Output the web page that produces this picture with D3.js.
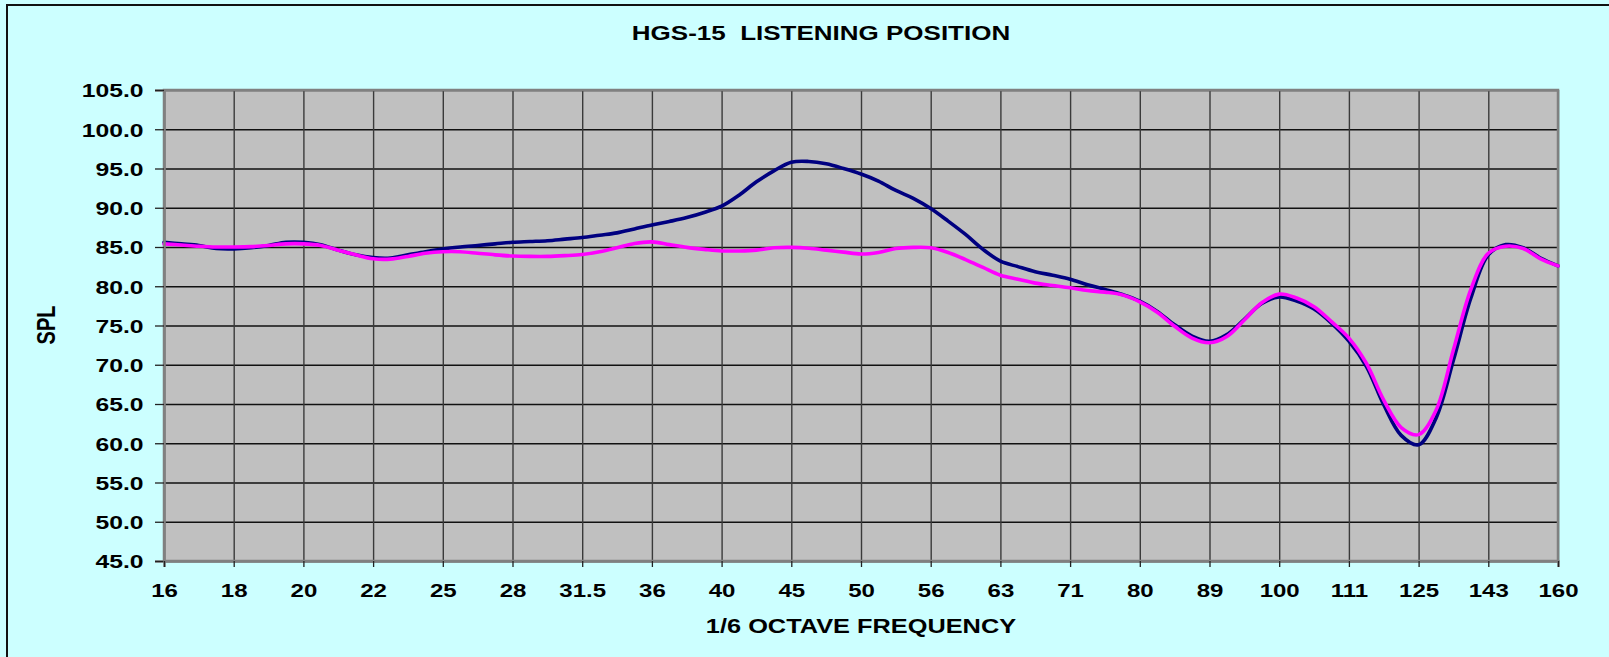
<!DOCTYPE html>
<html>
<head>
<meta charset="utf-8">
<script src="https://cdn.jsdelivr.net/npm/d3@7"></script>
<style>
  html, body { margin: 0; padding: 0; background: #CCFFFF; }
  svg { display: block; }
  text { font-family: "Liberation Sans", Arial, sans-serif; font-weight: bold; fill: #000; }
</style>
</head>
<body>
<svg id="chart" width="1609" height="657"></svg>
<script>
// 1/24-octave measurement points; labelled ones carry their nominal 1/6-octave name
const frequencies = [
  "16","16.5","17","17.5","18","18.5","19","19.6",
  "20","20.8","21.4","22.0x","22","23.3","24","24.7",
  "25","26.2","26.9","27.7","28","29.4","30.2","31.1",
  "31.5","32.9","33.9","34.9","36","37","38","39.2",
  "40","41.5","42.7","44","45","46.6","48","49.4",
  "50","52.3","53.8","55.4","56","58.7","60.4","62.2",
  "63","65.9","67.8","69.8","71","74","76.1","78.3",
  "80","83","85.4","87.9","89","93.2","95.9","98.7",
  "100","104.6","107.6","110.8","111","117.4","120.8","124.3",
  "125","131.8","135.6","139.6","143","147.9","152.2","156.7",
  "160"
];
const tickLabels = ["16","18","20","22","25","28","31.5","36","40","45","50","56","63","71","80","89","100","111","125","143","160"];
const yTicks = [45,50,55,60,65,70,75,80,85,90,95,100,105];

// Series (dB SPL)
const seriesNavy = [
  85.6,85.4,85.2,84.8,84.75,84.9,85.2,85.6,
  85.6,85.3,84.6,84.0,83.65,83.6,84.0,84.4,
  84.75,85.0,85.2,85.4,85.6,85.7,85.8,86.0,
  86.2,86.5,86.8,87.3,87.8,88.25,88.75,89.4,
  90.2,91.6,93.3,94.7,95.8,95.9,95.6,95.0,
  94.3,93.4,92.2,91.2,89.9,88.3,86.6,84.7,
  83.2,82.5,81.85,81.4,80.9,80.2,79.6,78.95,
  78.1,76.8,75.1,73.65,73.0,73.85,75.8,77.8,
  78.64,78.1,77.1,75.3,73.0,69.8,64.9,61.0,
  59.8,63.2,70.6,78.5,84.0,85.3,84.9,83.6,
  82.6
];
const seriesMagenta = [
  85.4,85.25,85.1,85.0,85.0,85.05,85.2,85.4,
  85.4,85.2,84.6,84.0,83.5,83.45,83.8,84.2,
  84.4,84.4,84.2,84.0,83.85,83.8,83.8,83.9,
  84.05,84.4,84.9,85.45,85.65,85.3,84.95,84.7,
  84.5,84.5,84.6,84.9,84.95,84.85,84.6,84.35,
  84.1,84.3,84.8,84.95,84.9,84.3,83.4,82.4,
  81.4,80.9,80.4,80.1,79.8,79.45,79.25,78.9,
  78.0,76.7,74.9,73.4,72.8,73.6,75.7,77.9,
  79.0,78.5,77.4,75.5,73.4,70.2,65.5,62.0,
  61.1,64.2,71.9,79.6,84.2,85.1,84.8,83.5,
  82.6
];

const titleText = "HGS-15  LISTENING POSITION";
const xTitle = "1/6 OCTAVE FREQUENCY";
const yTitle = "SPL";

// ---- layout ----
const W = 1609, H = 657;
const plot = { left: 164, right: 1558, top: 90, bottom: 561 };
const SX = 1.3; // horizontal text stretch seen in the reference

const svg = d3.select("#chart");

svg.append("rect")
  .attr("x", 0).attr("y", 0).attr("width", W).attr("height", H)
  .attr("fill", "#CCFFFF");
svg.append("rect")
  .attr("x", 7).attr("y", 5).attr("width", W + 100).attr("height", H + 100)
  .attr("fill", "none").attr("stroke", "#111").attr("stroke-width", 2);

const x = d3.scalePoint().domain(frequencies).range([plot.left, plot.right]).padding(0);
const y = d3.scaleLinear().domain([45, 105]).range([plot.bottom, plot.top]);

svg.append("rect")
  .attr("x", plot.left).attr("y", plot.top)
  .attr("width", plot.right - plot.left).attr("height", plot.bottom - plot.top)
  .attr("fill", "#C0C0C0");

// horizontal gridlines
svg.append("g")
  .attr("transform", `translate(${plot.left},0)`)
  .call(d3.axisLeft(y).tickValues(yTicks).tickSize(-(plot.right - plot.left)).tickFormat(""))
  .call(g => g.select(".domain").remove())
  .call(g => g.selectAll("line").attr("stroke", "#111").attr("stroke-width", 1.4));

// vertical gridlines
svg.append("g")
  .attr("transform", `translate(0,${plot.bottom})`)
  .call(d3.axisBottom(x).tickValues(tickLabels).tickSize(-(plot.bottom - plot.top)).tickFormat(""))
  .call(g => g.select(".domain").remove())
  .call(g => g.selectAll("line").attr("stroke", "#3a3a3a").attr("stroke-width", 1.4));

svg.append("rect")
  .attr("x", plot.left).attr("y", plot.top)
  .attr("width", plot.right - plot.left).attr("height", plot.bottom - plot.top)
  .attr("fill", "none").attr("stroke", "#808080").attr("stroke-width", 2.5);

// series
const line = d3.line()
  .x((d, i) => x(frequencies[i]))
  .y(d => y(d))
  .curve(d3.curveCatmullRom.alpha(0.5));

svg.append("path").datum(seriesNavy)
  .attr("d", line).attr("fill", "none")
  .attr("stroke", "#000080").attr("stroke-width", 3.6)
  .attr("stroke-linejoin", "round").attr("stroke-linecap", "round");
svg.append("path").datum(seriesMagenta)
  .attr("d", line).attr("fill", "none")
  .attr("stroke", "#FF00FF").attr("stroke-width", 3.6)
  .attr("stroke-linejoin", "round").attr("stroke-linecap", "round");

// y axis
svg.append("g")
  .attr("transform", `translate(${plot.left},0)`)
  .call(d3.axisLeft(y).tickValues(yTicks).tickSize(9).tickPadding(0).tickFormat(d3.format(".1f")))
  .call(g => g.select(".domain").attr("stroke", "#808080").attr("stroke-width", 2.5))
  .call(g => g.selectAll("line").attr("stroke", "#222").attr("stroke-width", 1.3))
  .call(g => g.selectAll("text")
      .attr("x", -20.5 / SX)
      .attr("dy", "0.36em")
      .attr("transform", `scale(${SX},1)`)
      .style("font-size", "19px")
      .style("font-family", '"Liberation Sans", Arial, sans-serif')
      .style("font-weight", "bold")
      .attr("fill", "#000"));

// x axis
svg.append("g")
  .attr("transform", `translate(0,${plot.bottom})`)
  .call(d3.axisBottom(x).tickValues(tickLabels).tickSize(6).tickPadding(0))
  .call(g => g.select(".domain").attr("stroke", "#808080").attr("stroke-width", 2.5))
  .call(g => g.selectAll("line").attr("stroke", "#222").attr("stroke-width", 1.3))
  .call(g => g.selectAll("text")
      .attr("y", 36).attr("dy", 0)
      .attr("transform", `scale(${SX},1)`)
      .style("font-size", "18.5px")
      .style("font-family", '"Liberation Sans", Arial, sans-serif')
      .style("font-weight", "bold")
      .attr("fill", "#000"));

// titles
svg.append("text")
  .attr("transform", `translate(821,40) scale(${SX},1)`)
  .attr("text-anchor", "middle")
  .style("font-size", "20px")
  .style("white-space", "pre")
  .attr("xml:space", "preserve")
  .text(titleText);

svg.append("text")
  .attr("transform", `translate(861,633) scale(${SX},1)`)
  .attr("text-anchor", "middle")
  .style("font-size", "19.5px")
  .text(xTitle);

svg.append("text")
  .attr("transform", `translate(55,325) scale(${SX},1) rotate(-90)`)
  .attr("text-anchor", "middle")
  .style("font-size", "20px")
  .text(yTitle);
</script>
</body>
</html>
